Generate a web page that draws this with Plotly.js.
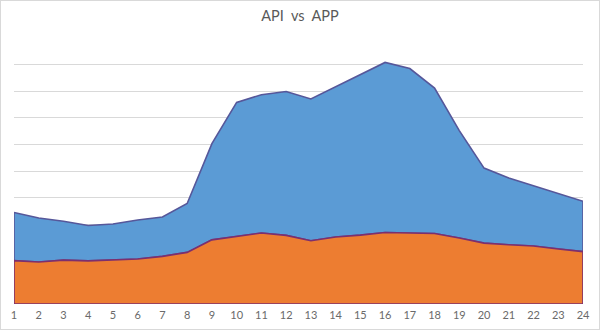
<!DOCTYPE html>
<html>
<head>
<meta charset="utf-8">
<script src="https://cdn.plot.ly/plotly-3.0.1.min.js"></script>
<style>
html,body{margin:0;padding:0;background:#fff;}
#wrap{position:relative;width:600px;height:330px;}
#chart{width:600px;height:330px;}
#frame{position:absolute;left:0;top:0;width:598px;height:328px;border:1px solid #d9d9d9;pointer-events:none;}
</style>
</head>
<body>
<div id="wrap"><div id="chart"></div><div id="frame"></div></div>
<script>
// Hours (x categories)
const hours = [1,2,3,4,5,6,7,8,9,10,11,12,13,14,15,16,17,18,19,20,21,22,23,24];
// Upper (blue) series – top edge of the blue area
const apiValues = [34.4,32.3,31.1,29.5,30.1,31.6,32.7,37.8,60.3,75.8,78.7,79.9,77.1,81.6,86.1,90.8,88.5,81.2,65.2,51.1,47.4,44.5,41.4,38.6];
// Lower (orange) series
const appValues = [16.3,15.8,16.5,16.2,16.5,16.9,17.9,19.4,24.1,25.3,26.7,25.8,23.8,25.2,25.9,26.9,26.7,26.5,24.8,22.9,22.3,21.8,20.7,19.7];
const tickLabels = hours.map(String);

// closed polygons built from the data
const first = hours[0], last = hours[hours.length-1];
const blueX = hours.concat(hours.slice().reverse()).concat([first]);
const blueY = apiValues.concat(appValues.slice().reverse()).concat([apiValues[0]]);
const orangeX = [first].concat(hours).concat([last, first]);
const orangeY = [0].concat(appValues).concat([0, 0]);

const traces = [
  {x: blueX, y: blueY, type:'scatter', mode:'lines', fill:'toself', name:'API',
   fillcolor:'#5B9BD5', line:{color:'#56579a', width:1.6}, hoverinfo:'skip'},
  {x: orangeX, y: orangeY, type:'scatter', mode:'lines', fill:'toself', name:'APP',
   fillcolor:'#ED7D31', line:{color:'#7d2f6e', width:1.6}, hoverinfo:'skip'}
];

const layout = {
  width:600, height:330,
  margin:{l:14, r:17, t:38, b:26},
  paper_bgcolor:'#fff', plot_bgcolor:'#fff',
  showlegend:false,
  title:{text:'API\u00a0 vs\u00a0 APP', x:0.5, xanchor:'center', y:0.952, yanchor:'middle',
         font:{family:'Lato, "Open Sans", sans-serif', size:14.5, color:'#595959'}},
  xaxis:{range:[first,last], tickvals:hours, ticktext:tickLabels, showgrid:false, zeroline:false,
         showline:false, ticks:'', ticklabelstandoff:3,
         tickfont:{family:'Lato, "Open Sans", sans-serif', size:11, color:'#6a6a6a'}},
  yaxis:{range:[0,100], dtick:10, showticklabels:false, showgrid:true, gridcolor:'#d9d9d9', gridwidth:1,
         zeroline:false, showline:false, ticks:''}
};
Plotly.newPlot('chart', traces, layout, {staticPlot:true, displayModeBar:false});
</script>
</body>
</html>
